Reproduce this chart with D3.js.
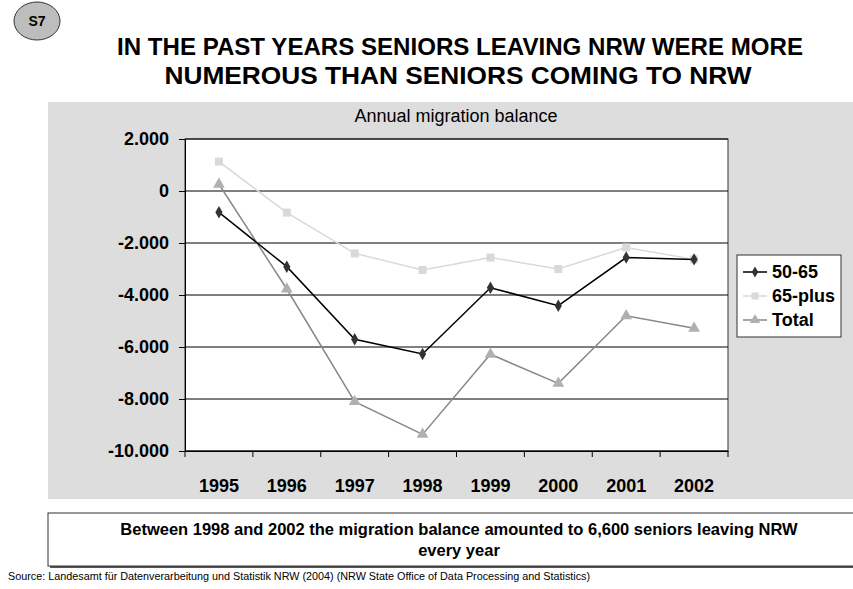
<!DOCTYPE html>
<html><head><meta charset="utf-8">
<script src="https://cdn.jsdelivr.net/npm/d3@7"></script>
<style>body{margin:0;background:#fff}svg{display:block;font-family:"Liberation Sans",Arial,sans-serif}</style>
</head><body><svg id="c" width="853" height="589"></svg>
<script>
const years = ["1995","1996","1997","1998","1999","2000","2001","2002"];
const s5065 = [-820,-2910,-5700,-6270,-3720,-4410,-2560,-2630];
const s65plus = [1130,-830,-2400,-3040,-2560,-3000,-2170,-2630];
const sTotal = [260,-3770,-8100,-9360,-6280,-7400,-4800,-5280];
const yTicks = [2000,0,-2000,-4000,-6000,-8000,-10000];
const seriesNames = ["50-65","65-plus","Total"];

const svg = d3.select("#c");
const loc = d3.formatLocale({decimal:",",thousands:".",grouping:[3],currency:["",""],minus:"-"});
const fmt = loc.format(",d");

// header
svg.append("ellipse").attr("cx",37).attr("cy",21).attr("rx",23).attr("ry",19).attr("fill","#bdbdbd").attr("stroke","#333").attr("stroke-width",1);
svg.append("text").attr("x",37).attr("y",26).attr("text-anchor","middle").attr("font-weight","bold").attr("font-size",14).text("S7");
const tl = ["IN THE PAST YEARS SENIORS LEAVING NRW WERE MORE","NUMEROUS THAN SENIORS COMING TO NRW"];
svg.append("text").attr("x",460).attr("y",55).attr("text-anchor","middle").attr("font-weight","bold").attr("font-size",23).attr("textLength",686).attr("lengthAdjust","spacingAndGlyphs").text(tl[0]);
svg.append("text").attr("x",458).attr("y",84).attr("text-anchor","middle").attr("font-weight","bold").attr("font-size",23).attr("textLength",587).attr("lengthAdjust","spacingAndGlyphs").text(tl[1]);

// chart background
svg.append("rect").attr("x",48).attr("y",102).attr("width",805).attr("height",397).attr("fill","#dddddd");

const x = d3.scaleBand().domain(years).range([185,728]);
const y = d3.scaleLinear().domain([-10000,2000]).range([451,139]);
const cx = d => x(d)+x.bandwidth()/2;

svg.append("rect").attr("x",185).attr("y",139).attr("width",543).attr("height",312).attr("fill","#fff").attr("stroke","#333");
svg.append("text").attr("x",456).attr("y",122).attr("text-anchor","middle").attr("font-size",18).text("Annual migration balance");

// grid
svg.append("g").selectAll("line").data(yTicks).join("line")
  .attr("x1",185).attr("x2",728).attr("y1",d=>y(d)).attr("y2",d=>y(d)).attr("stroke","#000").attr("stroke-width",1);

// axes
const ya = svg.append("g").attr("transform","translate(185,0)")
  .call(d3.axisLeft(y).tickValues(yTicks).tickFormat(fmt).tickSize(6).tickPadding(10));
ya.selectAll("text").attr("font-size",18).attr("font-weight","bold").attr("fill","#000").attr("font-family","Liberation Sans, Arial, sans-serif");
ya.selectAll("line,path").attr("stroke","#000");

const xa = svg.append("g").attr("transform","translate(0,451)")
  .call(d3.axisBottom(x).tickSize(0).tickPadding(28));
xa.select("path").attr("stroke","#000");
xa.selectAll("text").attr("font-size",18).attr("font-weight","bold").attr("fill","#000").attr("font-family","Liberation Sans, Arial, sans-serif");
const bounds = years.map(d=>x(d)).concat([x(years[years.length-1])+x.bandwidth()]);
svg.append("g").selectAll("line").data(bounds).join("line")
  .attr("x1",d=>d).attr("x2",d=>d).attr("y1",451).attr("y2",457).attr("stroke","#000");

// series
const styles = [
  {data:s5065, line:"#000", mark:"#333", shape:d3.symbolDiamond, size:45},
  {data:s65plus, line:"#d9d9d9", mark:"#d9d9d9", shape:d3.symbolSquare, size:64},
  {data:sTotal, line:"#888", mark:"#b0b0b0", shape:d3.symbolTriangle, size:60}
];
const line = d3.line().x((d,i)=>cx(years[i])).y(d=>y(d));
[1,2,0].forEach(k=>{
  const s = styles[k];
  svg.append("path").datum(s.data).attr("d",line).attr("fill","none").attr("stroke",s.line).attr("stroke-width",1.5);
  svg.append("g").selectAll("path").data(s.data).join("path")
    .attr("transform",(d,i)=>`translate(${cx(years[i])},${y(d)})`)
    .attr("d",d3.symbol().type(s.shape).size(s.size)).attr("fill",s.mark);
});

// legend
svg.append("rect").attr("x",737).attr("y",255).attr("width",104).attr("height",82).attr("fill","#fff").attr("stroke","#333");
seriesNames.forEach((n,i)=>{
  const s = styles[i], ly = 272+i*24;
  svg.append("line").attr("x1",743).attr("x2",767).attr("y1",ly).attr("y2",ly).attr("stroke",s.line).attr("stroke-width",1.5);
  svg.append("path").attr("transform",`translate(755,${ly})`).attr("d",d3.symbol().type(s.shape).size(s.size*0.8)).attr("fill",s.mark);
  svg.append("text").attr("x",772).attr("y",ly+6).attr("font-size",18).attr("font-weight","bold").text(n);
});

// bottom box
svg.append("rect").attr("x",50).attr("y",515).attr("width",810).attr("height",53).attr("fill","#555");
svg.append("rect").attr("x",48).attr("y",513).attr("width",810).attr("height",53).attr("fill","#fff").attr("stroke","#333");
svg.append("text").attr("x",459).attr("y",535).attr("text-anchor","middle").attr("font-weight","bold").attr("font-size",16.5).text("Between 1998 and 2002 the migration balance amounted to 6,600 seniors leaving NRW");
svg.append("text").attr("x",459).attr("y",556).attr("text-anchor","middle").attr("font-weight","bold").attr("font-size",16.5).text("every year");
svg.append("text").attr("x",8).attr("y",580).attr("font-size",10.8).text("Source: Landesamt für Datenverarbeitung und Statistik NRW (2004) (NRW State Office of Data Processing and Statistics)");
</script></body></html>
